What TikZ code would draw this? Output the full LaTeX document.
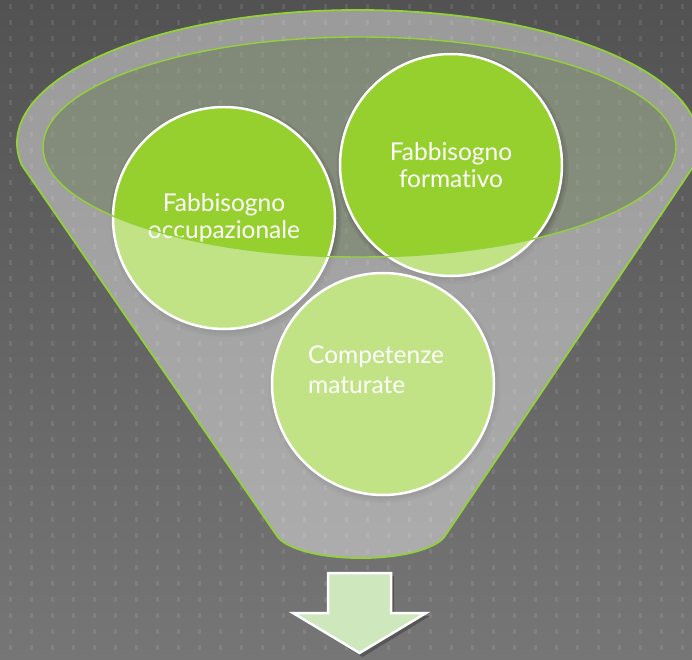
\documentclass[tikz,border=0pt]{standalone}
\usepackage{fontspec}
\newfontfamily\labelfont[Ligatures=NoCommon]{Lato}
\definecolor{bgtop}{RGB}{82,82,82}
\definecolor{bgbot}{RGB}{118,118,118}
\definecolor{limeline}{RGB}{146,210,56}
\definecolor{circgreen}{RGB}{149,208,46}
\definecolor{rimtint}{RGB}{173,189,157}
\definecolor{arrowfill}{RGB}{207,231,189}
\tikzset{
  bubble/.style={circle, draw=white, line width=2.5pt, fill=circgreen,
    minimum size=222pt, inner sep=0pt, text=white,
    font=\labelfont\fontsize{24.5}{27}\selectfont, align=center},
  bubbletext/.style={text=white, inner sep=0pt,
    font=\labelfont\fontsize{24.5}{30}\selectfont, align=left},
  bubbleshadow/.style={fill=black, opacity=0.07},
  funnelpath/.style={line width=1.8pt, draw=limeline},
  rimpath/.style={line width=1.4pt, draw=limeline},
  dotmark/.style={fill=white, opacity=0.09}
}
\begin{document}
\begin{tikzpicture}[x=1pt,y=1pt]
\useasboundingbox (0,0) rectangle (692,659);
\shade[top color=bgtop, bottom color=bgbot] (0,0) rectangle (692,659);
\foreach \i in {0,...,32}{
  \foreach \j in {0,...,40}{
    \fill[dotmark] ({9+21*\i},{649.5-16*\j}) rectangle ++(3,5);
  }
}
\begin{scope}
\clip (0,0) rectangle (692,659);
% inner mouth of the funnel
\fill[rimtint, opacity=0.5] (359.5,512) ellipse [x radius=316.5pt, y radius=110pt];
% shadows of the circles
\foreach \c in {(224,441),(451,494),(383,275)}{
  \foreach \r in {116,113.5,111.5}{
    \fill[bubbleshadow] \c ++(1.5,-3) circle [radius=\r pt];
  }
}
% circles
\node[bubble] (occ) at (224,441) {Fabbisogno\\occupazionale};
\node[bubble] (form) at (451,494) {Fabbisogno\\formativo};
\node[bubble] (comp) at (383,275) {};
% funnel body over the circles
\fill[white, opacity=0.42, even odd rule]
  (694.3,494.05) arc[start angle=-9.5, end angle=189.5, x radius=341pt, y radius=133pt]
  -- (276.3,124.1) arc[start angle=190, end angle=350, x radius=86pt, y radius=28pt]
  -- cycle
  (359.5,512) ellipse [x radius=316.5pt, y radius=110pt];
\draw[funnelpath]
  (694.3,494.05) arc[start angle=-9.5, end angle=189.5, x radius=341pt, y radius=133pt]
  -- (276.3,124.1) arc[start angle=190, end angle=350, x radius=86pt, y radius=28pt]
  -- cycle;
\draw[rimpath] (359.5,512) ellipse [x radius=316.5pt, y radius=110pt];
\node[bubbletext, anchor=north west] (comptext) at (308,313) {Competenze\\maturate};
% down arrow
\fill[black, opacity=0.25] (331,83) -- (394,83) -- (394,43) -- (430,43) -- (362.5,2) -- (296,43) -- (331,43) -- cycle;
\draw[fill=arrowfill, draw=white, line width=2.5pt, line join=miter]
  (328,86) -- (391,86) -- (391,46) -- (426,46) -- (359.5,6) -- (293,46) -- (328,46) -- cycle;
\end{scope}
\end{tikzpicture}
\end{document}
